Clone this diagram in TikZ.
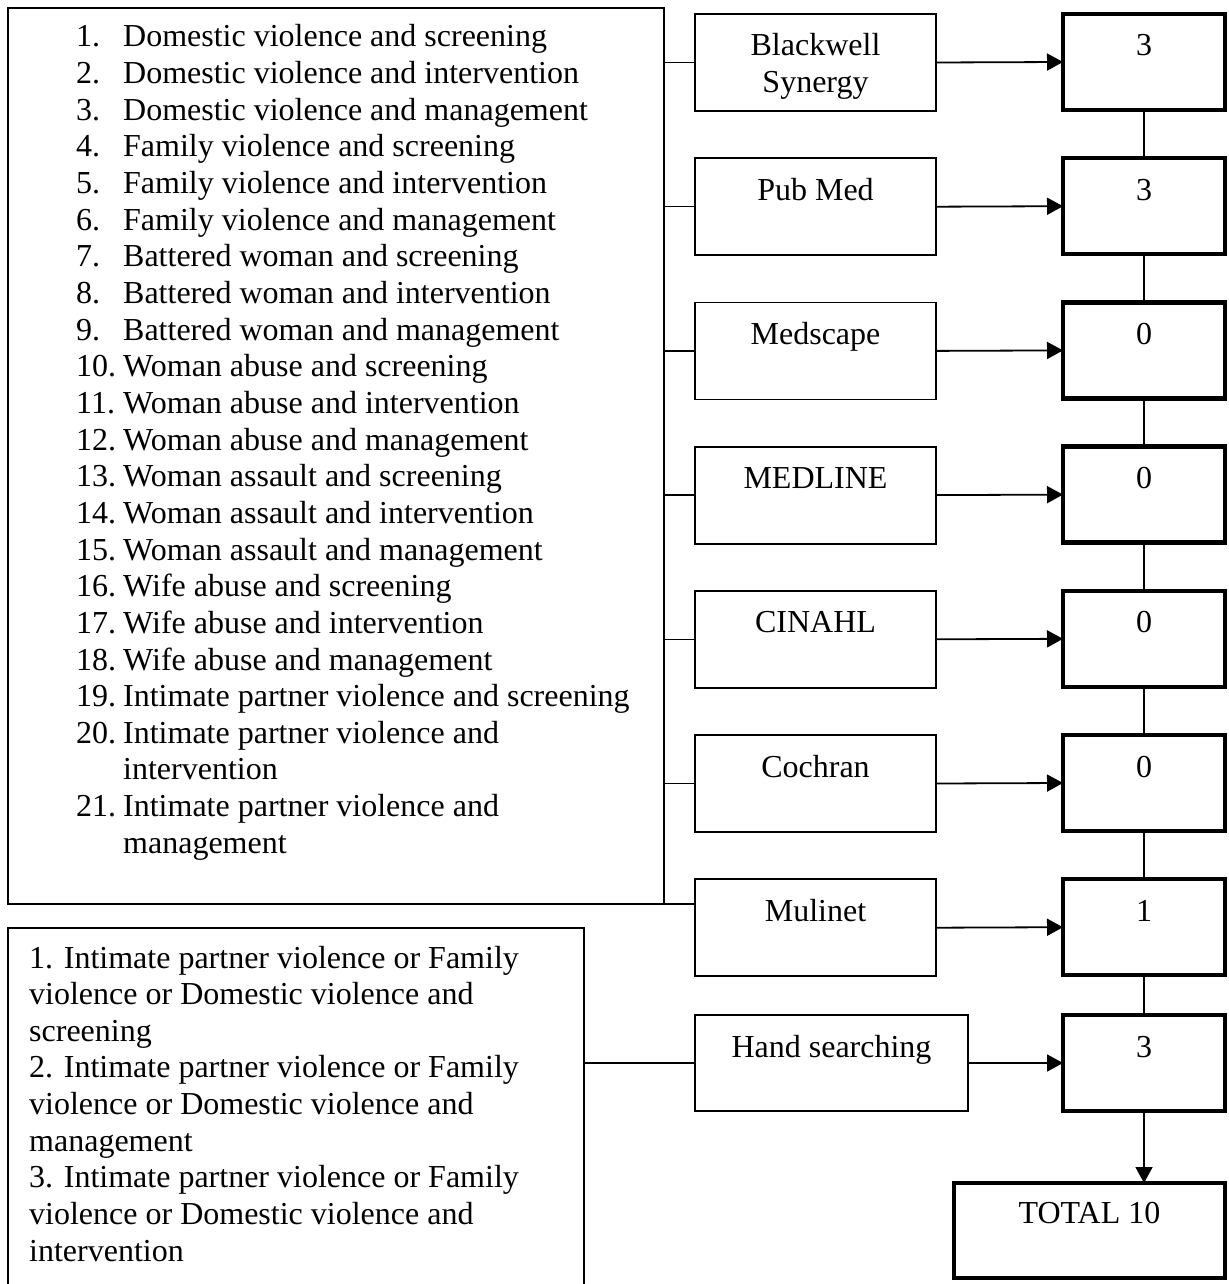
\documentclass[tikz,border=0pt]{standalone}
\usepackage{fontspec}
\setmainfont{Liberation Serif}
\usetikzlibrary{arrows.meta}
\begin{document}
\begin{tikzpicture}[x=1pt,y=1pt,
  bigbox/.style={draw, line width=1.3pt, inner sep=0pt, outer sep=0pt},
  dbbox/.style={draw, line width=1.8pt, inner sep=0pt, outer sep=0pt, minimum width=241pt, minimum height=97pt},
  numbox/.style={draw, line width=4.5pt, inner sep=0pt, outer sep=0pt, minimum width=162pt, minimum height=96pt},
  lbl/.style={anchor=base, inner sep=0pt, font=\fontsize{32}{36.65}\selectfont},
  listtext/.style={anchor=base west, inner sep=0pt, font=\fontsize{32}{36.65}\selectfont},
  conn/.style={line width=1.5pt},
  arr/.style={line width=1.8pt, -{Triangle[length=16pt,width=17pt]}}]
\clip (0,0) rectangle (1228,-1284);
\fill[white] (0,0) rectangle (1228,-1284);

% large list box
\node[bigbox, anchor=north west, minimum width=656pt, minimum height=896pt] (big) at (8,-8) {};
\node[listtext] (list) at (76,-47) {\begin{tabular}[t]{@{}p{47pt}@{}l@{}}
1. & Domestic violence and screening\\
2. & Domestic violence and intervention\\
3. & Domestic violence and management\\
4. & Family violence and screening\\
5. & Family violence and intervention\\
6. & Family violence and management\\
7. & Battered woman and screening\\
8. & Battered woman and intervention\\
9. & Battered woman and management\\
10. & Woman abuse and screening\\
11. & Woman abuse and intervention\\
12. & Woman abuse and management\\
13. & Woman assault and screening\\
14. & Woman assault and intervention\\
15. & Woman assault and management\\
16. & Wife abuse and screening\\
17. & Wife abuse and intervention\\
18. & Wife abuse and management\\
19. & Intimate partner violence and screening\\
20. & Intimate partner violence and\\
 & intervention\\
21. & Intimate partner violence and\\
 & management
\end{tabular}};

% lower box
\node[bigbox, line width=1.8pt, anchor=north west, minimum width=576pt, minimum height=420pt] (low) at (8,-928) {};
\node[listtext] (lowtxt) at (29,-968) {\begin{tabular}[t]{@{}l@{}}
1. Intimate partner violence or Family\\
violence or Domestic violence and\\
screening\\
2. Intimate partner violence or Family\\
violence or Domestic violence and\\
management\\
3. Intimate partner violence or Family\\
violence or Domestic violence and\\
intervention
\end{tabular}};

% database boxes
\node[dbbox] (bw)  at (815.5,-62.5) {};
\node[dbbox] (pm)  at (815.5,-206.7) {};
\node[dbbox] (ms)  at (815.5,-350.9) {};
\node[dbbox] (ml)  at (815.5,-495.1) {};
\node[dbbox] (ci)  at (815.5,-639.3) {};
\node[dbbox] (co)  at (815.5,-783.5) {};
\node[dbbox] (mu)  at (815.5,-927.7) {};
\node[dbbox, minimum width=273pt, minimum height=96pt] (hs) at (831.5,-1063) {};

\node[lbl] (bwt) at ([yshift=-42pt]bw.north) {\begin{tabular}[t]{@{}c@{}}Blackwell\\Synergy\end{tabular}};
\node[lbl] (pmt) at ([yshift=-42pt]pm.north) {Pub Med};
\node[lbl] (mst) at ([yshift=-42pt]ms.north) {Medscape};
\node[lbl] (mlt) at ([yshift=-42pt]ml.north) {MEDLINE};
\node[lbl] (cit) at ([yshift=-42pt]ci.north) {CINAHL};
\node[lbl] (cot) at ([yshift=-42pt]co.north) {Cochran};
\node[lbl] (mut) at ([yshift=-42pt]mu.north) {Mulinet};
\node[lbl] (hst) at ([yshift=-42pt]hs.north) {Hand searching};

% count boxes
\node[numbox] (r1) at (1144,-62) {};
\node[numbox] (r2) at (1144,-206.2) {};
\node[numbox] (r3) at (1144,-350.4) {};
\node[numbox] (r4) at (1144,-494.6) {};
\node[numbox] (r5) at (1144,-638.8) {};
\node[numbox] (r6) at (1144,-783) {};
\node[numbox] (r7) at (1144,-927.2) {};
\node[numbox] (r8) at (1144,-1063) {};
\node[numbox, minimum width=271pt, minimum height=95pt] (tot) at (1089.5,-1230.5) {};

\node[lbl] (r1t) at ([yshift=-42pt]r1.north) {3};
\node[lbl] (r2t) at ([yshift=-42pt]r2.north) {3};
\node[lbl] (r3t) at ([yshift=-42pt]r3.north) {0};
\node[lbl] (r4t) at ([yshift=-42pt]r4.north) {0};
\node[lbl] (r5t) at ([yshift=-42pt]r5.north) {0};
\node[lbl] (r6t) at ([yshift=-42pt]r6.north) {0};
\node[lbl] (r7t) at ([yshift=-42pt]r7.north) {1};
\node[lbl] (r8t) at ([yshift=-42pt]r8.north) {3};
\node[lbl] (tott) at ([yshift=-40pt]tot.north) {TOTAL 10};

% connectors from list box to databases
\foreach \d in {bw,pm,ms,ml,ci,co}{
  \draw[conn] (big.east |- \d.west) -- (\d.west);
}
\draw[conn] (big.south east) -- (mu.west |- big.south east);
\draw[conn] (low.east |- hs.west) -- (hs.west);

% arrows to counts
\draw[arr] (bw.east) -- (r1.west);
\draw[arr] (pm.east) -- (r2.west);
\draw[arr] (ms.east) -- (r3.west);
\draw[arr] (ml.east) -- (r4.west);
\draw[arr] (ci.east) -- (r5.west);
\draw[arr] (co.east) -- (r6.west);
\draw[arr] (mu.east) -- (r7.west);
\draw[arr] (hs.east) -- (r8.west);

% vertical links
\draw[conn] (r1.south) -- (r2.north);
\draw[conn] (r2.south) -- (r3.north);
\draw[conn] (r3.south) -- (r4.north);
\draw[conn] (r4.south) -- (r5.north);
\draw[conn] (r5.south) -- (r6.north);
\draw[conn] (r6.south) -- (r7.north);
\draw[conn] (r7.south) -- (r8.north);
\draw[arr] (r8.south) -- (r8.south |- tot.north);
\end{tikzpicture}
\end{document}
